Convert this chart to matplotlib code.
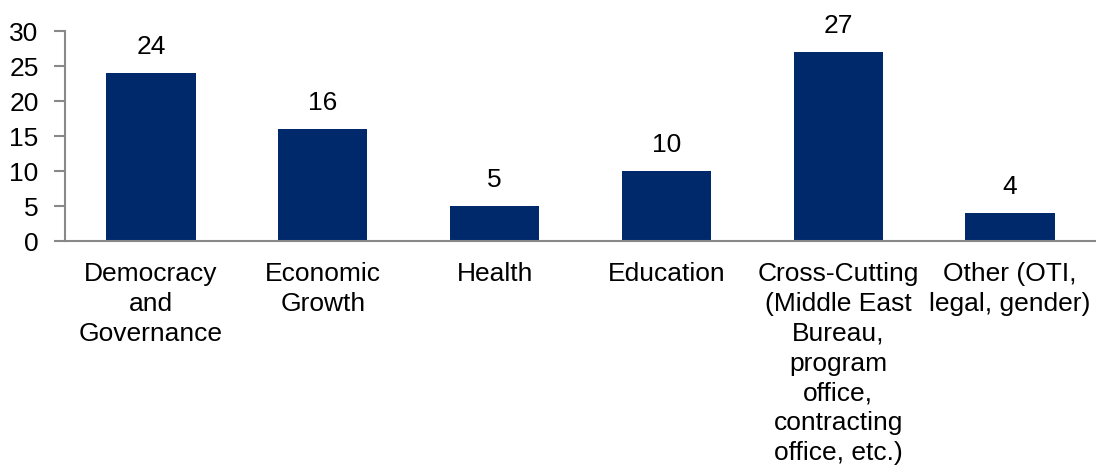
import matplotlib.pyplot as plt

plt.rcParams['font.family'] = ['Liberation Sans', 'DejaVu Sans']

categories = ['Democracy\nand\nGovernance', 'Economic\nGrowth', 'Health', 'Education',
              'Cross-Cutting\n(Middle East\nBureau,\nprogram\noffice,\ncontracting\noffice, etc.)',
              'Other (OTI,\nlegal, gender)']
counts = [24, 16, 5, 10, 27, 4]

fig = plt.figure(figsize=(10.96, 4.70), dpi=100)
ax = fig.add_axes([0.0593, 0.4872, 0.9407, 0.4468])

x = range(len(categories))
bars = ax.bar(x, counts, width=0.52, color='#00296b')

for b, v in zip(bars, counts):
    ax.annotate(str(v), (b.get_x() + b.get_width() / 2, v), xytext=(0, 19),
                textcoords='offset points', ha='center', va='center', fontsize=19)

ax.set_xlim(-0.5, len(categories) - 0.5)
ax.set_ylim(0, 30)
ax.set_yticks([0, 5, 10, 15, 20, 25, 30])
ax.set_xticks(list(x))
ax.set_xticklabels(categories, fontsize=19, linespacing=1.31, va='top')

ax.spines['top'].set_visible(False)
ax.spines['right'].set_visible(False)
for s in ('left', 'bottom'):
    ax.spines[s].set_color('#888888')
    ax.spines[s].set_linewidth(1.5)
ax.tick_params(axis='y', length=8, width=1.5, color='#888888', labelsize=19, pad=11)
ax.tick_params(axis='x', length=0, pad=15)

fig.savefig('out.png', dpi=100)
